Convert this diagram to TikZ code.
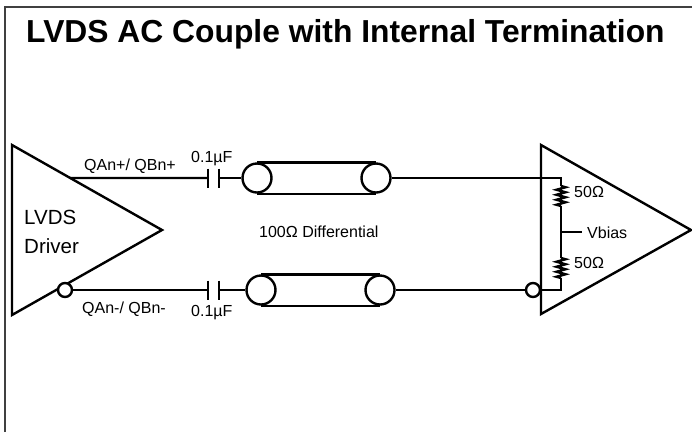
\documentclass[tikz,border=0pt]{standalone}
\usepackage{fontspec}
\setmainfont{Liberation Sans}
\usepackage{tikz}
\usetikzlibrary{arrows,calc,decorations.pathmorphing}

\begin{document}
\begin{tikzpicture}[x=1pt,y=-1pt
	,line width=2.4pt
	,line join=miter]
  \tikzstyle{bubble}=[circle,draw,fill=white,inner sep=0pt,minimum size=14pt]
  \tikzstyle{tubeend}=[circle,draw,inner sep=0pt,minimum size=29pt]
  \tikzstyle{lbl}=[inner sep=0pt,anchor=base west,font=\fontsize{16}{18}\selectfont]
  \tikzstyle{big}=[inner sep=0pt,anchor=base west,font=\fontsize{20.5}{24}\selectfont]
  \tikzstyle{resistor}=[decorate,decoration={zigzag,amplitude=4.5pt,segment length=5pt}]

  \useasboundingbox (0,0) rectangle (692,432);
  % frame and title
  \draw [line width=1.3pt,black!75] (5,432) -- (5,7) -- (692,7);
  \node [inner sep=0pt,anchor=base west,font=\bfseries\fontsize{31.8}{36}\selectfont]
    (title) at (25,42) {LVDS AC Couple with Internal Termination};

  % driver
  \coordinate (drvtop) at (12,145);
  \coordinate (drvbot) at (12,315);
  \coordinate (drvout) at (162,230);
  \draw (drvtop) -- (drvout) -- (drvbot) -- cycle;
  \node [big] (lvds) at (23,224) {LVDS};
  \node [big] (drvtxt) at (23,253) {Driver};
  \coordinate (qp) at ($(drvtop)!0.388!(drvout)$);
  \node [bubble] (qn) at (65,290) {};

  % capacitors
  \coordinate (c1a) at (208,178);
  \coordinate (c1b) at (219,178);
  \coordinate (c2a) at (208,290);
  \coordinate (c2b) at (219,290);
  \foreach \c in {c1a,c1b,c2a,c2b}
    \draw ([yshift=9.5pt]\c) -- ([yshift=-9.5pt]\c);

  % transmission lines
  \node [tubeend] (t1l) at (257,178) {};
  \node [tubeend] (t1r) at (376,178) {};
  \node [tubeend] (t2l) at (261,290) {};
  \node [tubeend] (t2r) at (380,290) {};

  % receiver
  \coordinate (rcvtop) at (541,145);
  \coordinate (rcvbot) at (541,314);
  \coordinate (rcvout) at (691,230);
  \draw (rcvtop) -- (rcvout) -- (rcvbot) -- cycle;
  \node [bubble] (rn) at (533,290) {};
  \coordinate (rtop) at (561,178);
  \coordinate (r1a) at (561,186);
  \coordinate (r1b) at (561,206);
  \coordinate (vb) at (561,232);
  \coordinate (vbend) at (582,232);
  \coordinate (r2a) at (561,258);
  \coordinate (r2b) at (561,278);
  \coordinate (rbot) at (561,290);
  \coordinate (rin) at (541,290);

  % top wire
  \path (qp)    edge (c1a);
  \path (c1b)   edge (t1l.west);
  \path (t1l.north) edge (t1r.north);
  \path (t1l.south) edge (t1r.south);
  \draw (t1r.east) -- (rtop) -- (r1a);
  \draw [resistor] (r1a) -- (r1b);
  \draw (r1b) -- (vb) -- (r2a);
  \path (vb)    edge (vbend);
  \draw [resistor] (r2a) -- (r2b);
  \draw (r2b) -- (rbot) -- (rin);
  % bottom wire
  \path (qn.east)   edge (c2a);
  \path (c2b)   edge (t2l.west);
  \path (t2l.north) edge (t2r.north);
  \path (t2l.south) edge (t2r.south);
  \path (t2r.east) edge (rn.west);

  % labels
  \node [lbl] (qplbl) at (83,170) {QAn+/ QBn+};
  \node [lbl] (qnlbl) at (81,313) {QAn-/ QBn-};
  \node [lbl] (c1lbl) at (190,162) {0.1µF};
  \node [lbl] (c2lbl) at (190,316) {0.1µF};
  \node [lbl] (zlbl) at (258,237) {100Ω Differential};
  \node [lbl] (r1lbl) at (573,197) {50Ω};
  \node [lbl] (r2lbl) at (573,268) {50Ω};
  \node [lbl] (vblbl) at (586,238) {Vbias};
\end{tikzpicture}
\end{document}
